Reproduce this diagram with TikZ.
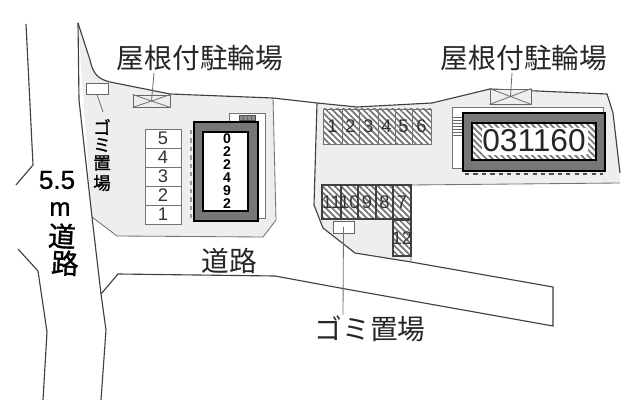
\documentclass[tikz,border=0pt]{standalone}
\usepackage{fontspec}
\setmainfont{Liberation Sans}
\newfontfamily\cjk{Noto Sans CJK JP}
\newfontfamily\cjkheavy[FakeBold=1.2]{Noto Sans CJK JP}
\newfontfamily\numheavy[FakeBold=1]{Liberation Sans}
\usetikzlibrary{patterns.meta}
\definecolor{lotgray}{HTML}{EEEEEE}
\definecolor{wallgray}{HTML}{777777}
\definecolor{inkgray}{HTML}{333333}
\begin{document}
\begin{tikzpicture}[x=0.025cm,y=-0.025cm]
    \def \spacing{0.025cm}
    \tikzstyle{edge} = [draw=black!75,line width=0.8pt]
    \tikzstyle{thin edge} = [draw=black!55,line width=0.6pt]
    \tikzstyle{hatch} = [pattern={Lines[angle=-45,distance=3.1pt,line width=1.2pt]},pattern color=black!55]
    \tikzstyle{bigtext} = [inner sep=0,text=black!85,font=\cjk\fontsize{19.7}{19.7}\selectfont]
    \tikzstyle{sidetext} = [inner sep=0,text=black,font=\cjkheavy\fontsize{12.5}{12.5}\selectfont]
    \tikzstyle{roadtext} = [inner sep=0,text=black,font=\cjkheavy\fontsize{19.5}{19.5}\selectfont]
    \tikzstyle{slotnum} = [inner sep=0,text=inkgray,font=\fontsize{13}{13}\selectfont]
    \tikzstyle{rack} = [draw=black!60,fill=lotgray,line width=0.7pt,inner sep=0]
    \tikzstyle{bin} = [draw=black!60,fill=white,line width=0.7pt,inner sep=0]
    \useasboundingbox (0,0) rectangle (640,400);
    \fill[white] (0,0) rectangle (640,400);

    % lots
    \fill[lotgray] (78,23) -- (90,60) .. controls (93,74) and (98,79) .. (110,82) -- (170,94) -- (273,98) -- (276,220) -- (263,237) -- (117,236) -- (92,217) -- cycle;
    \fill[lotgray] (317,103) -- (357,107) -- (432,103) -- (490,89) -- (607,94) -- (613,113) -- (620,173) -- (620,183) -- (411,185) -- (411,262) -- (355,253) -- (323,228) -- (314,205) -- cycle;
    \draw[edge] (78,23) -- (90,60) .. controls (93,74) and (98,79) .. (110,82) -- (170,94) -- (273,98) -- (317,103) -- (357,107) -- (432,103) -- (490,89) -- (607,94) -- (613,113) -- (620,173);
    \draw[thin edge] (273,98) -- (276,220) -- (263,237) -- (117,236) -- (92,217);
    \draw[edge] (317,103) -- (314,205) -- (323,228) -- (355,253) -- (411,262) -- (553,287) -- (553,326) -- (340,288) -- (275,276) -- (118,274) -- (101,294);
    \draw[thin edge] (620,183) -- (411,185) -- (411,262);

    % street
    \draw[edge] (26,24) -- (33,165) -- (16,185);
    \draw[edge] (18,249) -- (38,271) -- (47,332) -- (43,400);
    \draw[edge] (78,23) -- (79,100) -- (92,217) -- (101,294) -- (106,330) -- (101,400);

    % slots on the left
    \foreach \y/\num in {129/5,148/4,167/3,186/2,205/1} {
        \draw[thin edge,fill=white] (145,\y) rectangle (181,\y+19);
        \node[slotnum] (slot\num) at (163,\y+9.5) {\num};
    }

    % left building
    \draw[thin edge,fill=white] (229,122) -- (229,113) -- (265,113) -- (265,218) -- (258,218);
    \draw[black!70,fill=black!45,line width=0.5pt] (239,115) rectangle (255,120);
    \draw[black!60,line width=0.4pt] (243,115) -- (243,120) (247,115) -- (247,120) (251,115) -- (251,120);
    \draw[black!40,line width=0.9pt,dashed] (191,130) -- (191,218);
    \draw[black,fill=wallgray,line width=1.3pt] (194,122) rectangle (258,221);
    \draw[black,fill=white,line width=1.3pt] (203,132) rectangle (248,211);
    \foreach \i/\num in {0/0,1/2,2/2,3/4,4/9,5/2} {
        \node[inner sep=0,font=\bfseries\fontsize{10}{10}\selectfont] (code\i) at (227,139+\i*13) {\num};
    }

    % right building
    \draw[thin edge,fill=white] (452,107) rectangle (603,168);
    \foreach \y in {117,120,123,126,129,132,135} {
        \draw[black!60,line width=0.5pt] (453,\y) -- (463,\y);
    }
    \draw[black!70,line width=0.8pt,dashed] (465,174) -- (603,174);
    \draw[black,fill=wallgray,line width=1.3pt] (463,113) rectangle (605,171);
    \draw[black,fill=white,line width=1.3pt] (472,123) rectangle (596,160);
    \fill[hatch] (472,123) rectangle (596,160);
    \fill[white,rounded corners=2pt] (482,128) rectangle (588,155);
    \draw[black,line width=1.3pt] (472,123) rectangle (596,160);
    \node[inner sep=0,text=black!85,font=\fontsize{22.5}{22.5}\selectfont] (codetwo) at (534,141) {031160};

    % slots on the right
    \foreach \xa/\xb/\num in {323/342/1,342/359/2,359/378/3,378/395/4,395/412/5,412/431/6} {
        \draw[thin edge,fill=white] (\xa,109) rectangle (\xb,144);
        \fill[hatch] (\xa,109) rectangle (\xb,144);
        \draw[thin edge] (\xa,109) rectangle (\xb,144);
        \node[slotnum] (upper\num) at ({(\xa+\xb)/2},126) {\num};
    }
    \foreach \xa/\xb/\num in {322/341/11,341/358/10,358/376/9,376/393/8,393/411/7} {
        \draw[thin edge,fill=white] (\xa,185) rectangle (\xb,219);
        \fill[hatch] (\xa,185) rectangle (\xb,219);
        \draw[edge] (\xa,185) rectangle (\xb,219);
        \node[slotnum] (lower\num) at ({(\xa+\xb)/2},202) {\num};
    }
    \draw[edge,fill=white] (393,220) rectangle (411,256);
    \fill[hatch] (393,220) rectangle (411,256);
    \draw[edge] (393,220) rectangle (411,256);
    \node[slotnum] (lower12) at (402,238) {12};

    % bike racks, bins and their labels
    \node[rack,minimum width=37*\spacing,minimum height=12*\spacing] (rackleft) at (151.5,101) {};
    \draw[thin edge] (rackleft.north west) -- (rackleft.south east) (rackleft.south west) -- (rackleft.north east);
    \node[rack,minimum width=41*\spacing,minimum height=15*\spacing] (rackright) at (510.5,96.5) {};
    \draw[thin edge] (rackright.north west) -- (rackright.south east) (rackright.south west) -- (rackright.north east);
    \node[bin,minimum width=22*\spacing,minimum height=11*\spacing] (binleft) at (97,88.5) {};
    \node[bin,minimum width=21*\spacing,minimum height=12*\spacing] (binlower) at (343.5,227) {};

    \node[bigtext] (labelleft) at (200,58) {屋根付駐輪場};
    \node[bigtext] (labelright) at (524,58) {屋根付駐輪場};
    \node[bigtext] (labelbin) at (370,329) {ゴミ置場};
    \node[sidetext] (sidea) at (102,127) {ゴ};
    \node[sidetext] (sideb) at (102,145) {ミ};
    \node[sidetext] (sidec) at (102,163) {置};
    \node[sidetext] (sided) at (102,183) {場};
    \node[bigtext] (roadname) at (229,261) {道路};
    \node[inner sep=0,font=\numheavy\fontsize{18.5}{18.5}\selectfont] (widtha) at (57,180) {5.5};
    \node[inner sep=0,font=\numheavy\fontsize{18}{18}\selectfont] (widthb) at (60,209) {m};
    \node[roadtext,rotate=-3] (widthc) at (62,236) {道};
    \node[roadtext,rotate=-3] (widthd) at (65,263) {路};

    \coordinate (stemleft) at (154,73);
    \coordinate (stemright) at (512,73);
    \coordinate (stemside) at (103,112);
    \coordinate (stemlower) at (343,315);
    \draw[thin edge] (stemleft) -- (rackleft.center);
    \draw[thin edge] (stemright) -- (rackright.center);
    \draw[thin edge] (binleft.south) -- (stemside);
    \draw[thin edge] (binlower.center) -- (stemlower);
\end{tikzpicture}
\end{document}
